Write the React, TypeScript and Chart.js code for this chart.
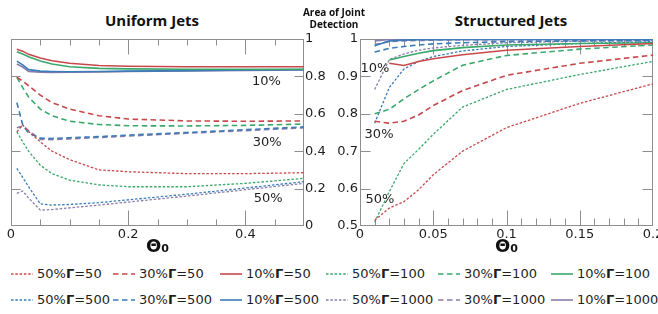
import React, { useEffect, useRef } from "react";
import { Chart, registerables } from "chart.js";

Chart.register(...registerables);

/* ---------------- Uniform Jets (left panel) ---------------- */
const uniformTheta = [0.01, 0.02, 0.03, 0.05, 0.07, 0.1, 0.15, 0.2, 0.3, 0.4, 0.5];
const uniformF50G50 = [0.504, 0.54, 0.505, 0.45, 0.4, 0.355, 0.3, 0.29, 0.28, 0.28, 0.285];
const uniformF30G50 = [0.795, 0.775, 0.75, 0.7, 0.66, 0.625, 0.59, 0.572, 0.562, 0.56, 0.562];
const uniformF10G50 = [0.945, 0.935, 0.918, 0.898, 0.884, 0.87, 0.858, 0.854, 0.852, 0.852, 0.852];
const uniformF50G100 = [0.504, 0.45, 0.4, 0.325, 0.28, 0.245, 0.22, 0.21, 0.21, 0.228, 0.255];
const uniformF30G100 = [0.795, 0.74, 0.69, 0.625, 0.59, 0.56, 0.543, 0.536, 0.535, 0.538, 0.545];
const uniformF10G100 = [0.932, 0.92, 0.905, 0.882, 0.866, 0.852, 0.843, 0.84, 0.838, 0.838, 0.838];
const uniformF50G500 = [0.308, 0.26, 0.21, 0.118, 0.112, 0.115, 0.125, 0.14, 0.17, 0.203, 0.237];
const uniformF30G500 = [0.66, 0.54, 0.497, 0.47, 0.468, 0.472, 0.478, 0.486, 0.5, 0.515, 0.53];
const uniformF10G500 = [0.882, 0.862, 0.836, 0.828, 0.826, 0.825, 0.826, 0.828, 0.831, 0.834, 0.836];
const uniformF50G1000 = [0.175, 0.187, 0.15, 0.085, 0.088, 0.097, 0.112, 0.128, 0.16, 0.194, 0.228];
const uniformF30G1000 = [0.525, 0.535, 0.51, 0.463, 0.462, 0.466, 0.473, 0.481, 0.496, 0.51, 0.525];
const uniformF10G1000 = [0.866, 0.85, 0.826, 0.822, 0.821, 0.822, 0.824, 0.826, 0.829, 0.832, 0.834];

/* ---------------- Structured Jets (right panel) ---------------- */
const structuredTheta = [0.01, 0.02, 0.03, 0.04, 0.05, 0.07, 0.1, 0.15, 0.2];
const structuredF50G50 = [0.515, 0.548, 0.565, 0.597, 0.637, 0.7, 0.763, 0.828, 0.88];
const structuredF30G50 = [0.78, 0.775, 0.78, 0.797, 0.822, 0.862, 0.903, 0.935, 0.957];
const structuredF10G50 = [null, 0.935, 0.929, 0.94, 0.947, 0.958, 0.97, 0.98, 0.988];
const structuredF50G100 = [0.51, 0.592, 0.667, 0.705, 0.745, 0.818, 0.865, 0.905, 0.94];
const structuredF30G100 = [0.8, 0.812, 0.84, 0.865, 0.888, 0.93, 0.956, 0.973, 0.984];
const structuredF10G100 = [null, 0.944, 0.953, 0.962, 0.969, 0.977, 0.984, 0.988, 0.99];
const structuredF50G500 = [0.775, 0.87, 0.92, 0.94, 0.953, 0.968, 0.98, 0.988, 0.993];
const structuredF30G500 = [0.965, 0.975, 0.98, 0.984, 0.987, 0.99, 0.993, 0.995, 0.996];
const structuredF10G500 = [0.982, 0.995, 0.997, 0.998, 0.998, 0.999, 0.999, 0.999, 0.999];
const structuredF50G1000 = [0.865, 0.945, 0.96, 0.97, 0.976, 0.983, 0.99, 0.994, 0.996];
const structuredF30G1000 = [0.985, 0.993, 0.995, 0.996, 0.997, 0.998, 0.998, 0.998, 0.998];
const structuredF10G1000 = [0.995, 0.999, 0.999, 0.999, 0.999, 0.999, 0.999, 0.999, 0.999];

/* ---------------- categories & ticks ---------------- */
const fractions = ["50%", "30%", "10%"];
const gammas = [50, 100, 500, 1000];

const uniformXTicks = [0, 0.2, 0.4];
const uniformYTicks = [0, 0.2, 0.4, 0.6, 0.8, 1];
const structuredXTicks = [0, 0.05, 0.1, 0.15, 0.2];
const structuredYTicks = [0.5, 0.6, 0.7, 0.8, 0.9, 1];

const uniformNoteTexts = ["10%", "30%", "50%"];
const uniformNoteX = [0.436, 0.437, 0.439];
const uniformNoteY = [0.77, 0.444, 0.144];
const structuredNoteTexts = ["10%", "30%", "50%"];
const structuredNoteX = [0.0102, 0.013, 0.0136];
const structuredNoteY = [0.92, 0.744, 0.571];

const uniformTable: Record<string, (number | null)[]> = {
  "50%|50": uniformF50G50, "30%|50": uniformF30G50, "10%|50": uniformF10G50,
  "50%|100": uniformF50G100, "30%|100": uniformF30G100, "10%|100": uniformF10G100,
  "50%|500": uniformF50G500, "30%|500": uniformF30G500, "10%|500": uniformF10G500,
  "50%|1000": uniformF50G1000, "30%|1000": uniformF30G1000, "10%|1000": uniformF10G1000,
};
const structuredTable: Record<string, (number | null)[]> = {
  "50%|50": structuredF50G50, "30%|50": structuredF30G50, "10%|50": structuredF10G50,
  "50%|100": structuredF50G100, "30%|100": structuredF30G100, "10%|100": structuredF10G100,
  "50%|500": structuredF50G500, "30%|500": structuredF30G500, "10%|500": structuredF10G500,
  "50%|1000": structuredF50G1000, "30%|1000": structuredF30G1000, "10%|1000": structuredF10G1000,
};

/* ---------------- styles ---------------- */
const gammaColor: Record<number, string> = {
  50: "#c8484a",
  100: "#3aa86b",
  500: "#3a7bb8",
  1000: "#8a7caa",
};
const fracDash: Record<string, number[]> = { "50%": [2.5, 1.8], "30%": [5.5, 3.5], "10%": [] };
const fracWidth: Record<string, number> = { "50%": 1.3, "30%": 1.6, "10%": 1.6 };

const TICK_FONT = { family: "'DejaVu Sans', Verdana, sans-serif", size: 13 };
const TEXT_COLOR = "#1e1e1e";
const FRAME_COLOR = "#8e8e8e";

function buildDatasets(theta: number[], table: Record<string, (number | null)[]>) {
  const ds: any[] = [];
  for (const g of gammas) {
    for (const f of fractions) {
      const vals = table[`${f}|${g}`];
      ds.push({
        label: `${f}Γ=${g}`,
        data: theta
          .map((x, i) => ({ x, y: vals[i] }))
          .filter((p) => p.y !== null),
        borderColor: gammaColor[g],
        backgroundColor: gammaColor[g],
        borderWidth: fracWidth[f],
        borderDash: fracDash[f],
        pointRadius: 0,
        pointHoverRadius: 0,
        fill: false,
        tension: 0,
      });
    }
  }
  return ds;
}

const frameTicksPlugin = {
  id: "frameTicks",
  beforeDatasetsDraw(chart: any, _args: any, opts: any) {
    const { ctx, chartArea: a } = chart;
    const xs = chart.scales.x;
    const ys = chart.scales.y;
    ctx.save();
    ctx.strokeStyle = FRAME_COLOR;
    ctx.lineWidth = 1;
    ctx.setLineDash([]);
    const L = Math.round(a.left) + 0.5;
    const R = Math.round(a.right) - 0.5;
    const T = Math.round(a.top) + 0.5;
    const B = Math.round(a.bottom) - 0.5;
    ctx.strokeRect(L, T, R - L, B - T);
    ctx.beginPath();
    const n = Math.round((xs.max - xs.min) / opts.xMinorStep);
    for (let i = 1; i < n; i++) {
      const v = xs.min + i * opts.xMinorStep;
      const major = opts.xMajor.some((m: number) => Math.abs(m - v) < 1e-9);
      const len = major ? opts.xMajorLen : opts.xMinorLen;
      const px = Math.round(xs.getPixelForValue(v)) + 0.5;
      ctx.moveTo(px, B);
      ctx.lineTo(px, B - len);
      ctx.moveTo(px, T);
      ctx.lineTo(px, T + len);
    }
    for (const v of opts.yMarks) {
      const py = Math.round(ys.getPixelForValue(v)) + 0.5;
      ctx.moveTo(L, py);
      ctx.lineTo(L + opts.yLen, py);
      ctx.moveTo(R, py);
      ctx.lineTo(R - opts.yLen, py);
    }
    ctx.stroke();
    ctx.restore();
  },
  afterDatasetsDraw(chart: any, _args: any, opts: any) {
    const { ctx } = chart;
    const xs = chart.scales.x;
    const ys = chart.scales.y;
    ctx.save();
    ctx.fillStyle = TEXT_COLOR;
    ctx.font = `${TICK_FONT.size}px ${TICK_FONT.family}`;
    ctx.textAlign = "center";
    ctx.textBaseline = "middle";
    opts.noteTexts.forEach((t: string, i: number) => {
      ctx.fillText(t, xs.getPixelForValue(opts.noteX[i]), ys.getPixelForValue(opts.noteY[i]));
    });
    ctx.restore();
  },
};

function panelConfig(p: {
  theta: number[];
  table: Record<string, (number | null)[]>;
  xMax: number;
  yMin: number;
  xTicks: number[];
  yTicks: number[];
  yPos: "left" | "right";
  yWidth: number;
  padLeft: number;
  padRight: number;
  xMinorStep: number;
  xMinorLen: number;
  yLen: number;
  yPad: number;
  noteTexts: string[];
  noteX: number[];
  noteY: number[];
}): any {
  return {
    type: "line",
    data: { datasets: buildDatasets(p.theta, p.table) },
    plugins: [frameTicksPlugin],
    options: {
      animation: false,
      responsive: false,
      maintainAspectRatio: false,
      events: [],
      layout: { padding: { left: p.padLeft, right: p.padRight, top: 39, bottom: 0 } },
      plugins: {
        legend: { display: false },
        tooltip: { enabled: false },
        title: { display: false },
        frameTicks: {
          xMinorStep: p.xMinorStep,
          xMajor: p.xTicks.slice(1),
          xMinorLen: p.xMinorLen,
          xMajorLen: 15,
          yMarks: p.yTicks.slice(1, -1),
          yLen: p.yLen,
          noteTexts: p.noteTexts,
          noteX: p.noteX,
          noteY: p.noteY,
        },
      },
      scales: {
        x: {
          type: "linear",
          position: "bottom",
          min: 0,
          max: p.xMax,
          grid: { display: false, drawTicks: false, tickLength: 0 },
          border: { display: false },
          ticks: {
            font: TICK_FONT,
            color: TEXT_COLOR,
            padding: 1,
            autoSkip: false,
            maxRotation: 0,
            callback: (v: number) => String(v),
          },
          afterBuildTicks: (s: any) => {
            s.ticks = p.xTicks.map((value) => ({ value }));
          },
          afterFit: (s: any) => {
            s.height = 30;
            s.paddingLeft = 0;
            s.paddingRight = 0;
          },
          title: {
            display: true,
            text: "Θ₀",
            color: "#111",
            padding: 0,
            font: { family: "'DejaVu Sans', Verdana, sans-serif", size: 18, weight: "bold", lineHeight: 1 },
          },
        },
        y: {
          type: "linear",
          position: p.yPos,
          min: p.yMin,
          max: 1,
          grid: { display: false, drawTicks: false, tickLength: 0 },
          border: { display: false },
          ticks: {
            font: TICK_FONT,
            color: TEXT_COLOR,
            padding: p.yPad,
            autoSkip: false,
            callback: (v: number) => String(v),
          },
          afterBuildTicks: (s: any) => {
            s.ticks = p.yTicks.map((value) => ({ value }));
          },
          afterFit: (s: any) => {
            s.width = p.yWidth;
            s.paddingTop = 0;
            s.paddingBottom = 0;
          },
        },
      },
    },
  };
}

const legendColumns = [11, 113, 220, 326, 438, 551];
const legendRowTops = [266, 292];

function LegendSample({ color, dash, width }: { color: string; dash: number[]; width: number }) {
  return (
    <svg width={22} height={10} style={{ display: "block", marginRight: 4, flex: "none" }}>
      <line
        x1={0}
        y1={5}
        x2={22}
        y2={5}
        stroke={color}
        strokeWidth={width}
        strokeDasharray={dash.length ? dash.join(" ") : undefined}
      />
    </svg>
  );
}

export default function App() {
  const leftRef = useRef<HTMLCanvasElement | null>(null);
  const rightRef = useRef<HTMLCanvasElement | null>(null);

  useEffect(() => {
    const left = new Chart(
      leftRef.current as HTMLCanvasElement,
      panelConfig({
        theta: uniformTheta,
        table: uniformTable,
        xMax: 0.5,
        yMin: 0,
        xTicks: uniformXTicks,
        yTicks: uniformYTicks,
        yPos: "right",
        yWidth: 26,
        padLeft: 11,
        padRight: 0,
        xMinorStep: 0.05,
        xMinorLen: 6,
        yLen: 9,
        yPad: 1,
        noteTexts: uniformNoteTexts,
        noteX: uniformNoteX,
        noteY: uniformNoteY,
      })
    );
    const right = new Chart(
      rightRef.current as HTMLCanvasElement,
      panelConfig({
        theta: structuredTheta,
        table: structuredTable,
        xMax: 0.2,
        yMin: 0.5,
        xTicks: structuredXTicks,
        yTicks: structuredYTicks,
        yPos: "left",
        yWidth: 30,
        padLeft: 0,
        padRight: 5,
        xMinorStep: 0.01,
        xMinorLen: 7,
        yLen: 10,
        yPad: 2,
        noteTexts: structuredNoteTexts,
        noteX: structuredNoteX,
        noteY: structuredNoteY,
      })
    );
    return () => {
      left.destroy();
      right.destroy();
    };
  }, []);

  const legendItems: { f: string; g: number }[] = [];
  for (const g of gammas) for (const f of fractions) legendItems.push({ f, g });

  return (
    <div
      style={{
        position: "absolute",
        left: 0,
        top: 0,
        width: 658,
        height: 314,
        background: "#fff",
        overflow: "hidden",
      }}
    >
      <div
        style={{
          position: "absolute",
          left: 72,
          width: 160,
          top: 10,
          textAlign: "center",
          font: "bold 15px/20px 'Open Sans', sans-serif",
          color: "#111",
        }}
      >
        Uniform Jets
      </div>
      <div
        style={{
          position: "absolute",
          left: 421,
          width: 180,
          top: 10,
          textAlign: "center",
          font: "bold 15px/20px 'Open Sans', sans-serif",
          color: "#111",
        }}
      >
        Structured Jets
      </div>
      <div
        style={{
          position: "absolute",
          left: 284,
          width: 100,
          top: 7,
          textAlign: "center",
          font: "bold 10px/11.5px 'Open Sans', sans-serif",
          color: "#111",
          zIndex: 2,
        }}
      >
        Area of Joint
        <br />
        Detection
      </div>
      <canvas
        ref={leftRef}
        width={330}
        height={256}
        style={{ position: "absolute", left: 0, top: 0, width: 330, height: 256 }}
      />
      <canvas
        ref={rightRef}
        width={328}
        height={256}
        style={{ position: "absolute", left: 330, top: 0, width: 328, height: 256 }}
      />
      {legendItems.map((it, i) => {
        const row = Math.floor(i / 6);
        const col = i % 6;
        return (
          <div
            key={i}
            style={{
              position: "absolute",
              left: legendColumns[col],
              top: legendRowTops[row],
              height: 16,
              display: "flex",
              alignItems: "center",
              whiteSpace: "nowrap",
              font: "13px/16px 'DejaVu Sans', Verdana, sans-serif",
              color: TEXT_COLOR,
            }}
          >
            <LegendSample color={gammaColor[it.g]} dash={fracDash[it.f]} width={fracWidth[it.f]} />
            <span>
              {it.f}
              <b>Γ</b>={it.g}
            </span>
          </div>
        );
      })}
    </div>
  );
}
